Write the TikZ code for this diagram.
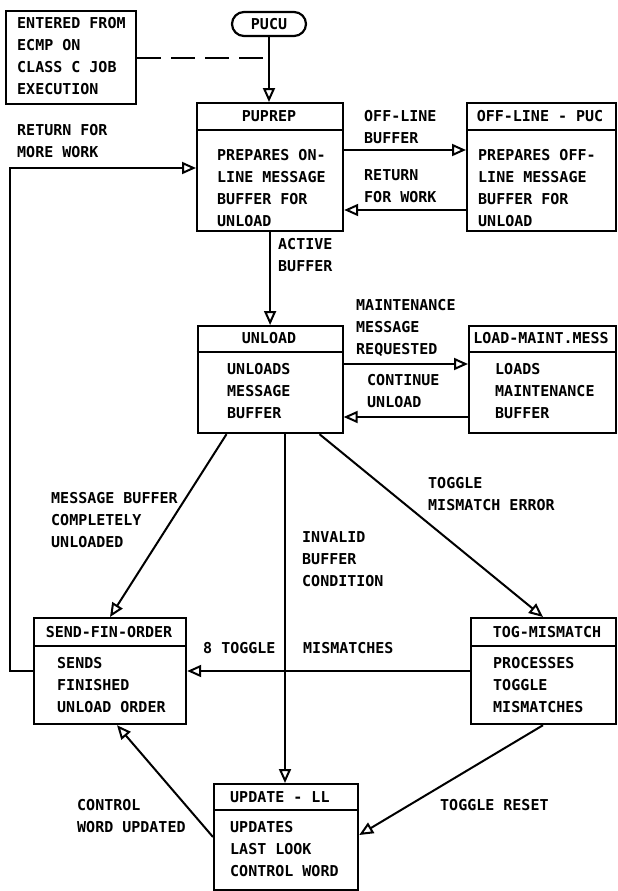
\documentclass[tikz,border=0pt]{standalone}
\usepackage{fontspec}
\setmonofont{DejaVu Sans Mono}
\usetikzlibrary{arrows.meta}
\begin{document}
\begin{tikzpicture}[x=1pt,y=-1pt,
  txt/.style={font=\ttfamily\bfseries\fontsize{15}{22}\selectfont, inner sep=0pt},
  lbl/.style={txt, anchor=north west, align=left},
  box/.style={draw, line width=2.2pt, inner sep=0pt, anchor=north west},
  sep/.style={line width=2pt},
  conn/.style={line width=2pt, -{Triangle[open,length=14pt,width=12pt,line width=2pt]}},
  ]
\fill[white] (0,0) rectangle (618,891);
\useasboundingbox (0,0) rectangle (618,891);

% boxes
\node[box, minimum width=130pt, minimum height=93pt] (ent) at (5,10) {};
\node[box, txt, rounded corners=12pt, minimum width=74pt, minimum height=24pt, anchor=center] (pucu) at (269,24) {PUCU};
\node[box, minimum width=146pt, minimum height=128pt] (pup) at (196,102) {};
\node[box, minimum width=149pt, minimum height=128pt] (off) at (466,102) {};
\node[box, minimum width=145pt, minimum height=107pt] (unl) at (196.5,325) {};
\node[box, minimum width=147pt, minimum height=107pt] (lm) at (468,325) {};
\node[box, minimum width=152pt, minimum height=106pt] (snd) at (33,617) {};
\node[box, minimum width=145pt, minimum height=106pt] (tog) at (470,617) {};
\node[box, minimum width=144pt, minimum height=106pt] (upd) at (213,783) {};

% header separators
\draw[sep] ([yshift=-28pt]pup.north west) -- ([yshift=-28pt]pup.north east);
\draw[sep] ([yshift=-28pt]off.north west) -- ([yshift=-28pt]off.north east);
\draw[sep] ([yshift=-27pt]unl.north west) -- ([yshift=-27pt]unl.north east);
\draw[sep] ([yshift=-27pt]lm.north west) -- ([yshift=-27pt]lm.north east);
\draw[sep] ([yshift=-29pt]snd.north west) -- ([yshift=-29pt]snd.north east);
\draw[sep] ([yshift=-29pt]tog.north west) -- ([yshift=-29pt]tog.north east);
\draw[sep] ([yshift=-27pt]upd.north west) -- ([yshift=-27pt]upd.north east);

% box texts
\node[lbl] (entT) at (17,17.5) {ENTERED FROM\\ECMP ON\\CLASS C JOB\\EXECUTION};
\node[txt] (pupH) at (269,116) {PUPREP};
\node[lbl] (pupT) at (217,149.5) {PREPARES ON-\\LINE MESSAGE\\BUFFER FOR\\UNLOAD};
\node[txt] (offH) at (540,116) {OFF-LINE - PUC};
\node[lbl] (offT) at (478,149.5) {PREPARES OFF-\\LINE MESSAGE\\BUFFER FOR\\UNLOAD};
\node[txt] (unlH) at (269,338) {UNLOAD};
\node[lbl] (unlT) at (227,363.5) {UNLOADS\\MESSAGE\\BUFFER};
\node[txt] (lmH) at (541,338) {LOAD-MAINT.MESS};
\node[lbl] (lmT) at (495,363.5) {LOADS\\MAINTENANCE\\BUFFER};
\node[txt] (sndH) at (109,632) {SEND-FIN-ORDER};
\node[lbl] (sndT) at (57,657.5) {SENDS\\FINISHED\\UNLOAD ORDER};
\node[txt] (togH) at (547,632) {TOG-MISMATCH};
\node[lbl] (togT) at (493,657.5) {PROCESSES\\TOGGLE\\MISMATCHES};
\node[txt, anchor=west] (updH) at (230,797) {UPDATE - LL};
\node[lbl] (updT) at (230,821.5) {UPDATES\\LAST LOOK\\CONTROL WORD};

% connectors
\draw[line width=2pt, dash pattern=on 24pt off 10pt] (ent.east) -- (ent.east -| pucu.south);
\draw[conn] (pucu.south) -- (pucu.south |- pup.north);
\draw[conn] ([yshift=-48pt]pup.north east) -- ([yshift=-48pt]off.north west);
\draw[conn] ([yshift=-108pt]off.north west) -- ([yshift=-108pt]pup.north east);
\draw[conn] (pup.south) -- (pup.south |- unl.north);
\draw[conn] ([yshift=-39pt]unl.north east) -- ([yshift=-39pt]lm.north west);
\draw[conn] ([yshift=-92pt]lm.north west) -- ([yshift=-92pt]unl.north east);
\draw[conn] ([xshift=30pt]unl.south west) -- ([xshift=77pt]snd.north west);
\draw[conn] ([xshift=88.5pt]unl.south west) -- ([xshift=72pt]upd.north west);
\draw[conn] ([xshift=123pt]unl.south west) -- ([xshift=73pt]tog.north west);
\draw[conn] ([yshift=-54pt]tog.north west) -- ([yshift=-54pt]snd.north east);
\draw[conn] ([xshift=73pt]tog.south west) -- ([yshift=-52pt]upd.north east);
\draw[conn] ([yshift=-54pt]upd.north west) -- ([xshift=84pt]snd.south west);
\draw[conn] (snd.west) -- ++(-23,0) |- ([yshift=-66pt]pup.north west);

% labels
\node[lbl] (l1) at (17,124.5) {RETURN FOR\\MORE WORK};
\node[lbl] (l2) at (364,110.5) {OFF-LINE\\BUFFER};
\node[lbl] (l3) at (364,169.5) {RETURN\\FOR WORK};
\node[lbl] (l4) at (278,238.5) {ACTIVE\\BUFFER};
\node[lbl] (l5) at (356,299.5) {MAINTENANCE\\MESSAGE\\REQUESTED};
\node[lbl] (l6) at (367,374.5) {CONTINUE\\UNLOAD};
\node[lbl] (l7) at (51,492.5) {MESSAGE BUFFER\\COMPLETELY\\UNLOADED};
\node[lbl] (l8) at (302,531.5) {INVALID\\BUFFER\\CONDITION};
\node[lbl] (l9) at (428,477.5) {TOGGLE\\MISMATCH ERROR};
\node[txt, anchor=west] (l10) at (203,648) {8 TOGGLE};
\node[txt, anchor=west] (l11) at (303,648) {MISMATCHES};
\node[lbl] (l12) at (77,799.5) {CONTROL\\WORD UPDATED};
\node[txt, anchor=west] (l13) at (440,805) {TOGGLE RESET};
\end{tikzpicture}
\end{document}
